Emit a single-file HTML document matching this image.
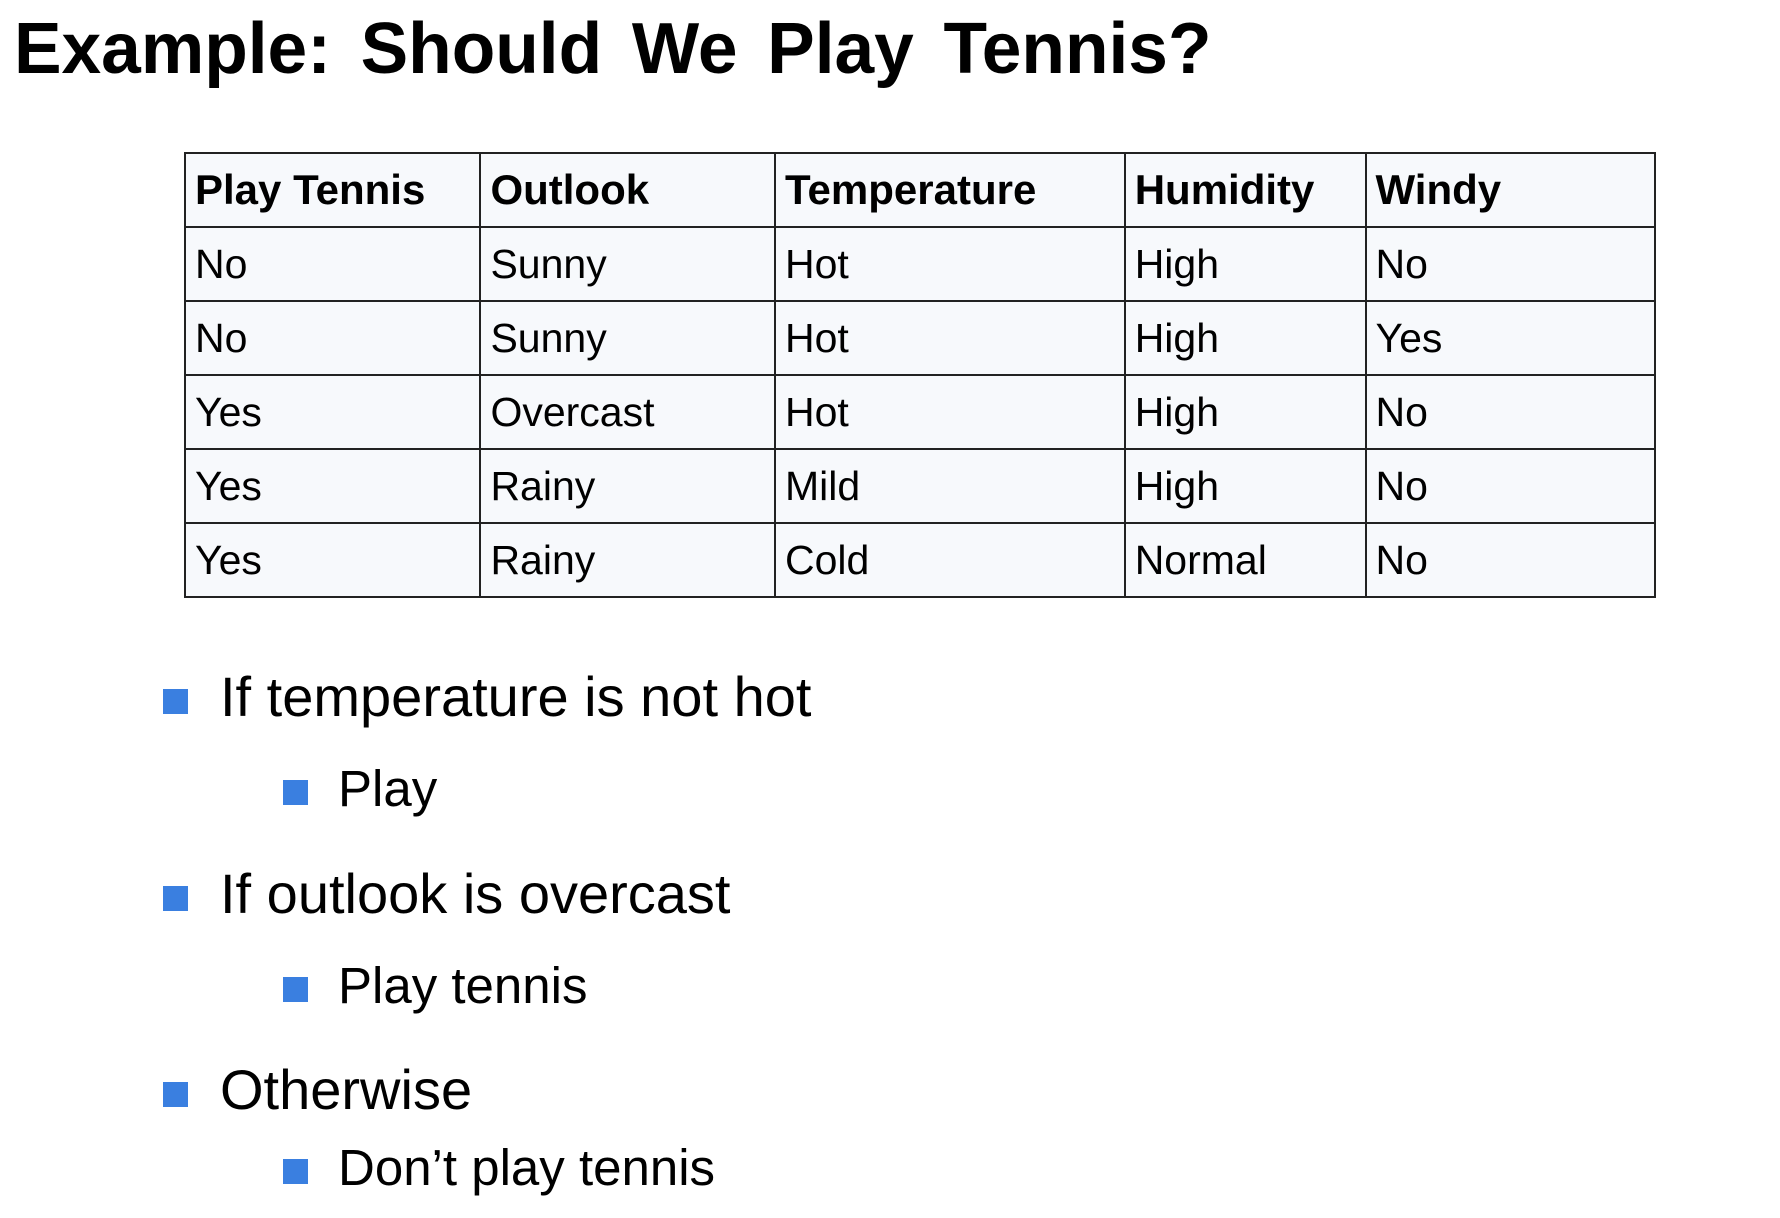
<!DOCTYPE html>
<html><head><meta charset="utf-8"><style>
body{margin:0;width:1780px;height:1218px;background:#fff;position:relative;overflow:hidden;font-family:"Liberation Sans",sans-serif;color:#000}
.t{position:absolute;white-space:nowrap}
#title{left:14px;top:8px;font-size:72px;font-weight:bold;word-spacing:10px;transform:scaleX(0.99);transform-origin:left}
table{position:absolute;left:184px;top:152px;width:1472px;border-collapse:collapse;background:#f7f9fc}
td{border:2px solid #222;font-size:41px;padding:0 0 0 9px;height:72px;vertical-align:middle}
th{border:2px solid #222;font-size:42px;padding:0 0 0 9px;height:72px;text-align:left}
.sq{position:absolute;background:#3a7fe0;width:25px;height:25px}
.m{font-size:56px}
.s{font-size:51px}
</style></head><body>
<div id="title" class="t">Example: Should We Play Tennis?</div>
<table>
<colgroup><col style="width:296px"><col style="width:295px"><col style="width:350px"><col style="width:241px"><col style="width:290px"></colgroup>
<tr><th>Play Tennis</th><th>Outlook</th><th>Temperature</th><th>Humidity</th><th>Windy</th></tr>
<tr><td>No</td><td>Sunny</td><td>Hot</td><td>High</td><td>No</td></tr>
<tr><td>No</td><td>Sunny</td><td>Hot</td><td>High</td><td>Yes</td></tr>
<tr><td>Yes</td><td>Overcast</td><td>Hot</td><td>High</td><td>No</td></tr>
<tr><td>Yes</td><td>Rainy</td><td>Mild</td><td>High</td><td>No</td></tr>
<tr><td>Yes</td><td>Rainy</td><td>Cold</td><td>Normal</td><td>No</td></tr>
</table>
<div class="sq" style="left:163px;top:689px"></div>
<div class="t m" style="left:220px;top:664px">If temperature is not hot</div>
<div class="sq" style="left:283px;top:780px"></div>
<div class="t s" style="left:338px;top:759px">Play</div>
<div class="sq" style="left:163px;top:886px"></div>
<div class="t m" style="left:220px;top:861px">If outlook is overcast</div>
<div class="sq" style="left:283px;top:977px"></div>
<div class="t s" style="left:338px;top:956px">Play tennis</div>
<div class="sq" style="left:163px;top:1082px"></div>
<div class="t m" style="left:220px;top:1057px">Otherwise</div>
<div class="sq" style="left:283px;top:1159px"></div>
<div class="t s" style="left:338px;top:1138px">Don’t play tennis</div>
</body></html>
